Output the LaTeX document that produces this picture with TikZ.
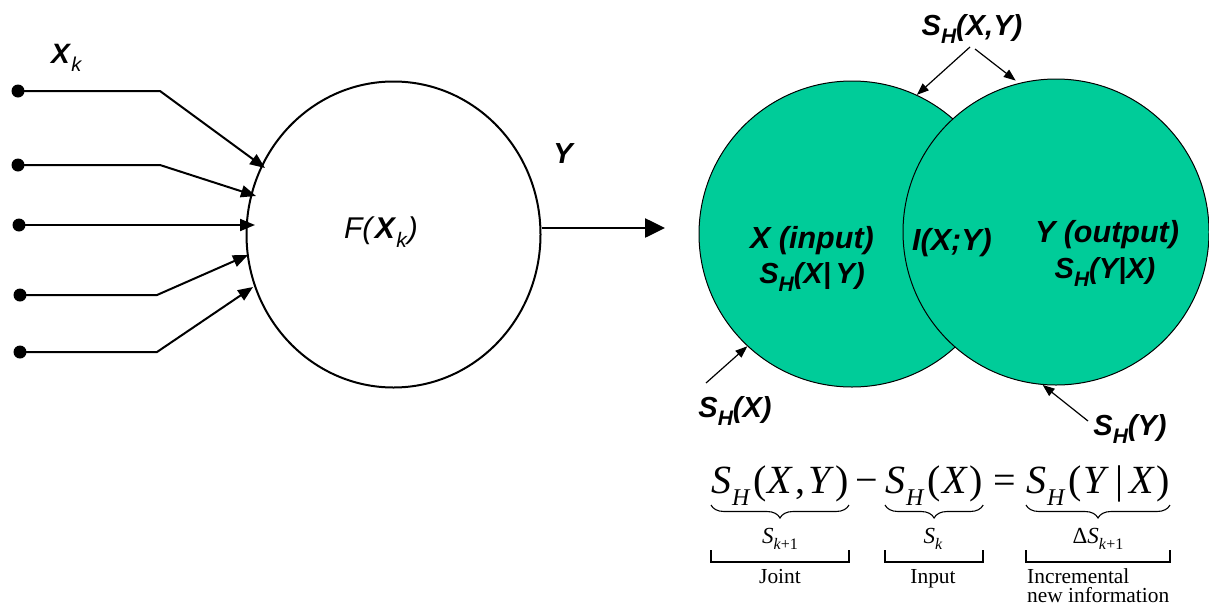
\documentclass[tikz,border=0pt]{standalone}
\usepackage{fontspec}
\setmainfont{Liberation Serif}
\setsansfont{Liberation Sans}
\usetikzlibrary{arrows.meta,shapes.geometric,decorations.pathreplacing,calc}
\definecolor{venn}{RGB}{0,204,153}
\newcommand{\fs}[1]{\fontsize{#1}{#1}\selectfont}
\newcommand{\vSH}{S\raisebox{-0.28em}{\fs{21}H}}
\newcommand{\eSH}{\textit{S}\hspace{1pt}\raisebox{-0.3em}{\fs{24}\textit{H}}\hspace{3pt}}
\begin{document}
\begin{tikzpicture}[x=1pt,y=-1pt,
  inarrow/.style={line width=2pt,-{Triangle[length=15pt,width=12pt]}},
  outarrow/.style={line width=2.6pt,-{Triangle[length=20pt,width=19pt]}},
  dot/.style={circle,fill=black,inner sep=0pt,minimum size=13pt},
  vtext/.style={font=\sffamily\bfseries\itshape\fs{29},anchor=base,inner sep=0pt},
  ventarrow/.style={line width=1.2pt,-{Triangle[length=12pt,width=9pt]}},
  eqpart/.style={font=\fs{40},anchor=base west,inner sep=0pt},
  ubrace/.style={decorate,decoration={brace,mirror,amplitude=13pt,aspect=0.5},line width=1.1pt},
  bracket/.style={line width=1.6pt},
  lab/.style={font=\fs{21.4},inner sep=0pt,anchor=base}
]
\useasboundingbox (0,0) rectangle (1209,608);

% ---------- left: neuron ----------
\node[ellipse,draw,line width=2pt,minimum width=294pt,minimum height=306pt,inner sep=0pt] (F) at (393.5,234.5) {};
\node[anchor=base,inner sep=0pt,font=\sffamily\fs{30}] (Flab) at (381,238)
  {\textit{F(}\textbf{\textit{X}}\raisebox{-0.3em}{\fs{21}\textit{k}}\textit{)}};
\node[anchor=base west,inner sep=0pt,font=\sffamily\fs{28}] (Xk) at (51,63)
  {\textbf{\textit{X}}\raisebox{-0.3em}{\fs{20}\textit{k}}};
\node[anchor=base,inner sep=0pt,font=\sffamily\bfseries\itshape\fs{29}] (Ylab) at (563,163) {Y};

\node[dot] (d1) at (18,91) {};
\node[dot] (d2) at (18,165) {};
\node[dot] (d3) at (19,225) {};
\node[dot] (d4) at (20,295) {};
\node[dot] (d5) at (20,352) {};
\coordinate (b1) at (160,91);
\coordinate (b2) at (160,165);
\coordinate (b4) at (157,295);
\coordinate (b5) at (157,352);
\coordinate (t1) at (265,168);
\coordinate (t2) at (256,196);
\coordinate (t3) at (255,225);
\coordinate (t4) at (248,255);
\coordinate (t5) at (253,287);
\draw[inarrow] (d1.center) -- (b1) -- (t1);
\draw[inarrow] (d2.center) -- (b2) -- (t2);
\draw[inarrow] (d3.center) -- (t3);
\draw[inarrow] (d4.center) -- (b4) -- (t4);
\draw[inarrow] (d5.center) -- (b5) -- (t5);

\coordinate (yout) at (665,228);
\draw[outarrow] ([yshift=6.5pt]F.east) -- (yout);

% ---------- right: Venn ----------
\node[circle,draw,fill=venn,line width=1pt,minimum size=306pt,inner sep=0pt] (C1) at (852,234) {};
\node[circle,draw,fill=venn,line width=1pt,minimum size=306pt,inner sep=0pt] (C2) at (1056,232) {};

\node[vtext,font=\sffamily\bfseries\itshape\fs{30.5}] (xin) at (812,248) {X (input)};
\node[vtext] (sxy) at (812,283) {\vSH(X|\,Y)};
\node[vtext,font=\sffamily\bfseries\itshape\fs{30.5}] (ixy) at (952,250) {I(X;Y)};
\node[vtext,font=\sffamily\bfseries\itshape\fs{30.5}] (yout2) at (1107,242) {Y (output)};
\node[vtext] (syx) at (1105,278) {\vSH(Y|X)};
\node[vtext] (sjoint) at (972,35) {\vSH(X,Y)};
\node[vtext] (sx) at (735,417) {\vSH(X)};
\node[vtext] (sy) at (1130,435) {\vSH(Y)};

\coordinate (a1) at (970,47);
\coordinate (a2) at (975,49);
\coordinate (a3) at (706,383);
\coordinate (a4) at (1088,421);
\draw[ventarrow] (a1) -- (C1.65);
\draw[ventarrow,shorten >=4pt] (a2) -- (C2.104);
\draw[ventarrow] (a3) -- (C1.227);
\draw[ventarrow] (a4) -- (C2.265);

% ---------- equation ----------
\node[eqpart] (p1) at (711,493) {\eSH(\hspace{1pt}\textit{X}\hspace{2pt},\hspace{3pt}\textit{Y}\hspace{1pt})};
\node[eqpart] (mn) at (855,493) {−};
\node[eqpart] (p2) at (885,493) {\eSH(\hspace{1.5pt}\textit{X}\hspace{1.5pt})};
\node[eqpart] (eq) at (993,493) {=};
\node[eqpart] (p3) at (1026,493) {\eSH(\hspace{1.5pt}\textit{Y}\hspace{6pt}|\hspace{6pt}\textit{X}\hspace{1.5pt})};

\draw[ubrace] ([yshift=-12pt]p1.base west) -- ([yshift=-12pt]p1.base east);
\draw[ubrace] ([yshift=-12pt]p2.base west) -- ([yshift=-12pt]p2.base east);
\draw[ubrace] ([yshift=-12pt]p3.base west) -- ([yshift=-12pt]p3.base east);

\node[lab,font=\fs{23}] (s1) at (780,543) {\textit{S}\raisebox{-0.3em}{\fs{16}\textit{k}+1}};
\node[lab,font=\fs{23}] (s2) at (933,543) {\textit{S}\raisebox{-0.3em}{\fs{16}\textit{k}}};
\node[lab,font=\fs{23}] (s3) at (1098,543) {Δ\textit{S}\raisebox{-0.3em}{\fs{16}\textit{k}+1}};

\draw[bracket] ([yshift=-57pt]p1.base west) -- ++(0,12) -| ([yshift=-57pt]p1.base east);
\draw[bracket] ([yshift=-57pt]p2.base west) -- ++(0,12) -| ([yshift=-57pt]p2.base east);
\draw[bracket] ([yshift=-57pt]p3.base west) -- ++(0,12) -| ([yshift=-57pt]p3.base east);

\node[lab] (joint) at (780,583) {Joint};
\node[lab] (input) at (933,583) {Input};
\node[lab,anchor=base west] (inc1) at (1027,583) {Incremental};
\node[lab,anchor=base west] (inc2) at (1027,602) {new information};
\end{tikzpicture}
\end{document}
